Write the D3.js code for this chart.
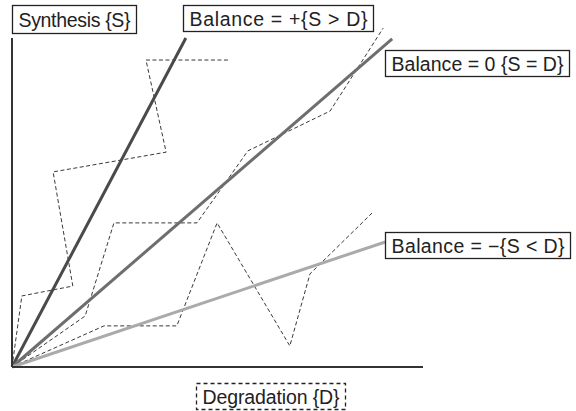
<!DOCTYPE html>
<html>
<head>
<meta charset="utf-8">
<script src="https://cdn.jsdelivr.net/npm/d3@7"></script>
<style>
  body { margin: 0; background: #fff; }
  text { font-family: "Liberation Sans", Arial, Helvetica, sans-serif; }
</style>
</head>
<body>
<div id="chart"></div>
<script>
// data space: Degradation {D} on x, Synthesis {S} on y (0..100)
const balanceNames = ["Balance = +{S > D}", "Balance = 0 {S = D}", "Balance = \u2212{S < D}"];
const balanceEnds = [[42.3, 100], [92.5, 99.7], [90.8, 38.0]];
const balanceColors = ["#4a4a4a", "#6e6e6e", "#aaaaaa"];

// measured trajectories (dashed)
const pathA = [[0, 0], [2.4, 21.6], [14.8, 24.6], [10.0, 59.3], [37.5, 65.3], [32.6, 93.3], [52.6, 93.3]];
const pathB = [[0, 0], [17.8, 15.5], [24.8, 43.8], [45.0, 43.8], [57.4, 65.7], [77.4, 77.8], [90.3, 103.0]];
const pathC = [[0, 0], [22.4, 12.5], [40.1, 12.5], [49.9, 43.8], [67.6, 6.4], [72.5, 28.3], [87.6, 46.8]];

const axisLabels = ["Synthesis {S}", "Degradation {D}"];

const W = 576, H = 411;
const svg = d3.select("#chart").append("svg")
  .attr("width", W).attr("height", H);

const x = d3.scaleLinear().domain([0, 100]).range([12, 423]);
const y = d3.scaleLinear().domain([0, 100]).range([367, 38]);

const line = d3.line().x(d => x(d[0])).y(d => y(d[1]));

// dashed trajectories
svg.selectAll(".traj").data([pathA, pathB, pathC]).enter().append("path")
  .attr("d", line)
  .attr("fill", "none")
  .attr("stroke", "#222")
  .attr("stroke-width", 0.9)
  .attr("stroke-dasharray", "4,2.5");

// balance lines
svg.selectAll(".bal").data(balanceEnds).enter().append("path")
  .attr("d", d => line([[0, 0], d]))
  .attr("fill", "none")
  .attr("stroke", (d, i) => balanceColors[i])
  .attr("stroke-width", 3);

// axes (plain lines, no ticks)
svg.append("line")
  .attr("x1", x(0)).attr("x2", x(0))
  .attr("y1", y(0)).attr("y2", y(100))
  .attr("stroke", "#333").attr("stroke-width", 2);
svg.append("line")
  .attr("x1", x(0)).attr("x2", x(100))
  .attr("y1", y(0)).attr("y2", y(0))
  .attr("stroke", "#333").attr("stroke-width", 2);

// boxed labels
function boxLabel(txt, left, top, w, h, dashed) {
  const g = svg.append("g");
  g.append("rect")
    .attr("x", left + 0.5).attr("y", top + 0.5)
    .attr("width", w).attr("height", h)
    .attr("fill", "#fff")
    .attr("stroke", "#222")
    .attr("stroke-width", 1.3)
    .attr("stroke-dasharray", dashed ? "4,3" : null);
  g.append("text")
    .attr("x", left + w / 2 + 0.5)
    .attr("y", top + h / 2 + 0.5)
    .attr("dy", "0.36em")
    .attr("text-anchor", "middle")
    .attr("font-size", "19.5px")
    .attr("textLength", w - 12)
    .attr("lengthAdjust", "spacing")
    .attr("fill", "#222")
    .text(txt);
}

boxLabel(axisLabels[0], 12, 5, 124, 28);
boxLabel(balanceNames[0], 183, 5, 190, 26);
boxLabel(balanceNames[1], 385, 50, 184, 26);
boxLabel(balanceNames[2], 385, 232, 185, 26);
boxLabel(axisLabels[1], 196, 383, 149, 26, true);
</script>
</body>
</html>
